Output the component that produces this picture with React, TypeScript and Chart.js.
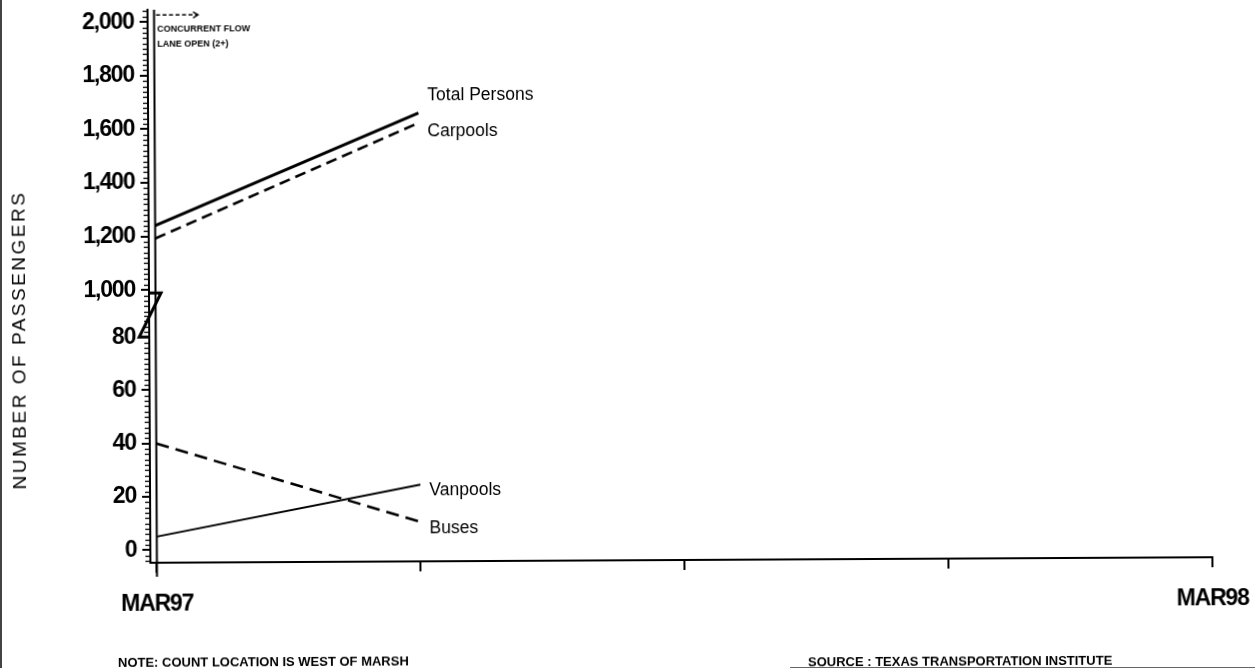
import React, { useEffect, useRef } from 'react';
import { Chart, registerables } from 'chart.js';

Chart.register(...registerables);

// ---------- data ----------
const axisPeriods = ['MAR97', 'JUN97', 'SEP97', 'DEC97', 'MAR98'];
const xTickLabels = ['MAR97', '', '', '', 'MAR98'];
const dataPeriods = ['MAR97', 'JUN97'];

const totalPersons = [1240, 1655];
const carpools = [1192, 1618];
const vanpools = [5, 24];
const buses = [40, 10];

const upperTicks = [1000, 1200, 1400, 1600, 1800, 2000];
const lowerTicks = [0, 20, 40, 60, 80];

const yTitle = 'NUMBER OF PASSENGERS';
const annotationLines = ['CONCURRENT FLOW', 'LANE OPEN (2+)'];
const noteText = 'NOTE: COUNT LOCATION IS WEST OF MARSH';
const sourceText = 'SOURCE : TEXAS TRANSPORTATION INSTITUTE';

// ---------- layout / style ----------
const W = 1255;
const H = 668;
const AREA = { left: 149, right: 1211, top: 7, bottom: 560 };
const LABEL_DY = [-17, 9, 6, 7];
const TICK_FONT = { family: "'Liberation Sans', Arial, sans-serif", size: 23, weight: 'bold' as const };

const decorPlugin = {
  id: 'decor',
  beforeDraw(chart: any) {
    (chart.ctx as any).letterSpacing = '-1.2px';
  },
  beforeDatasetsDraw(chart: any) {
    (chart.ctx as any).letterSpacing = '0px';
  },
  afterDraw(chart: any) {
    const ctx: CanvasRenderingContext2D = chart.ctx;
    (ctx as any).letterSpacing = '0px';
    const xs = chart.scales.x;
    const yH = chart.scales.yHigh;
    const yL = chart.scales.yLow;
    const axisX = chart.chartArea.left;
    ctx.save();

    // minor ticks
    ctx.strokeStyle = '#000';
    ctx.lineWidth = 1.3;
    const minor = (scale: any, step: number, per: number) => {
      const start = Math.ceil(scale.min / step);
      const end = Math.floor(scale.max / step);
      for (let k = start; k <= end; k++) {
        if (k % per === 0) continue;
        const py = Math.round(scale.getPixelForValue(k * step)) + 0.5;
        ctx.beginPath();
        ctx.moveTo(axisX - 5, py);
        ctx.lineTo(axisX, py);
        ctx.stroke();
      }
    };
    minor(yH, 20, 10);
    minor(yL, 2, 10);

    // axis break symbol
    const boundary = yH.bottom;
    const low80 = yL.getPixelForValue(80);
    ctx.lineWidth = 3;
    ctx.lineJoin = 'miter';
    ctx.beginPath();
    ctx.moveTo(axisX, boundary - 20.5);
    ctx.lineTo(axisX + 12, boundary - 20.5);
    ctx.lineTo(axisX - 10, low80);
    ctx.lineTo(axisX, low80);
    ctx.stroke();

    // event marker line
    const mx = xs.getPixelForValue(0);
    ctx.lineWidth = 2;
    ctx.beginPath();
    ctx.moveTo(mx, AREA.top);
    ctx.lineTo(mx, AREA.bottom + 14);
    ctx.stroke();

    // dashed arrow
    const ay = AREA.top + 5.3;
    ctx.lineWidth = 1.4;
    ctx.setLineDash([4, 2.5]);
    ctx.beginPath();
    ctx.moveTo(mx + 2, ay);
    ctx.lineTo(mx + 43, ay);
    ctx.stroke();
    ctx.setLineDash([]);
    ctx.beginPath();
    ctx.moveTo(mx + 39, ay - 3);
    ctx.lineTo(mx + 44, ay);
    ctx.lineTo(mx + 39, ay + 3);
    ctx.stroke();

    // annotation text
    ctx.fillStyle = '#000';
    ctx.font = "bold 9px 'Liberation Sans', Arial, sans-serif";
    ctx.textAlign = 'left';
    ctx.textBaseline = 'alphabetic';
    ctx.fillText(annotationLines[0], mx + 3, AREA.top + 22.3);
    ctx.fillText(annotationLines[1], mx + 3, AREA.top + 36.8);

    // series labels
    ctx.font = "17.5px 'Liberation Sans', Arial, sans-serif";
    ctx.textBaseline = 'middle';
    chart.data.datasets.forEach((ds: any, i: number) => {
      const meta = chart.getDatasetMeta(i);
      const last = meta.data[meta.data.length - 1];
      ctx.fillText(ds.label, last.x + 9, last.y + LABEL_DY[i]);
    });

    // y title
    ctx.save();
    ctx.translate(20, 336.5);
    ctx.rotate(-Math.PI / 2);
    ctx.font = "19px 'Liberation Sans', Arial, sans-serif";
    (ctx as any).letterSpacing = '2.5px';
    ctx.fillStyle = '#000';
    ctx.textAlign = 'center';
    ctx.textBaseline = 'middle';
    ctx.fillText(yTitle, 0, 0);
    ctx.restore();

    // footnotes
    ctx.font = "bold 13px 'Liberation Sans', Arial, sans-serif";
    ctx.textBaseline = 'alphabetic';
    ctx.textAlign = 'left';
    ctx.fillText(noteText, 116, 664);
    ctx.fillText(sourceText, 806, 667);

    ctx.restore();
  },
};

export default function App() {
  const ref = useRef<HTMLCanvasElement | null>(null);

  useEffect(() => {
    if (!ref.current) return;

    const pts = (vals: number[]) =>
      dataPeriods.map((p, i) => ({ x: axisPeriods.indexOf(p), y: vals[i] }));

    const yCommon = (ticks: number[]) => ({
      type: 'linear' as const,
      position: 'left' as const,
      stack: 'y',
      afterBuildTicks: (s: any) => {
        s.ticks = ticks.map((v) => ({ value: v }));
      },
      afterFit: (s: any) => {
        s.width = AREA.left;
        s.paddingTop = 0;
        s.paddingBottom = 0;
      },
      ticks: {
        color: '#000',
        padding: 6,
        font: TICK_FONT,
        callback: (v: any) => Number(v).toLocaleString('en-US'),
      },
      grid: { drawOnChartArea: false, drawTicks: true, tickLength: 8, color: '#000', lineWidth: 2 },
      border: { display: true, color: '#000', width: 2 },
    });

    const chart = new Chart(ref.current, {
      type: 'line',
      data: {
        datasets: [
          { label: 'Total Persons', data: pts(totalPersons), yAxisID: 'yHigh', borderColor: '#000', borderWidth: 3, pointRadius: 0 },
          { label: 'Carpools', data: pts(carpools), yAxisID: 'yHigh', borderColor: '#000', borderWidth: 2.5, borderDash: [11, 6], pointRadius: 0 },
          { label: 'Vanpools', data: pts(vanpools), yAxisID: 'yLow', borderColor: '#000', borderWidth: 2, pointRadius: 0 },
          { label: 'Buses', data: pts(buses), yAxisID: 'yLow', borderColor: '#000', borderWidth: 2.5, borderDash: [13, 7], pointRadius: 0 },
        ],
      },
      options: {
        animation: false,
        responsive: false,
        events: [],
        layout: { padding: { left: 0, right: W - AREA.right, top: AREA.top, bottom: 0 } },
        plugins: { legend: { display: false }, tooltip: { enabled: false } },
        scales: {
          x: {
            type: 'linear',
            position: 'bottom',
            min: -0.0246,
            max: axisPeriods.length - 1,
            afterBuildTicks: (s: any) => {
              s.ticks = axisPeriods.map((_, i) => ({ value: i }));
            },
            afterFit: (s: any) => {
              s.height = H - AREA.bottom;
              s.paddingLeft = 0;
              s.paddingRight = 0;
            },
            ticks: {
              color: '#000',
              autoSkip: false,
              maxRotation: 0,
              padding: 18,
              font: TICK_FONT,
              callback: (_v: any, i: number) => xTickLabels[i] ?? '',
            },
            grid: { drawOnChartArea: false, drawTicks: true, tickLength: 10, color: '#000', lineWidth: 2 },
            border: { display: true, color: '#000', width: 2 },
          },
          yHigh: { ...yCommon(upperTicks), min: 912.3, max: 2045.5, stackWeight: 303.7, weight: 2 },
          yLow: { ...yCommon(lowerTicks), min: -4.81, max: 88.83, stackWeight: 249.3, weight: 1 },
        },
      } as any,
      plugins: [decorPlugin],
    });
    return () => chart.destroy();
  }, []);

  return (
    <div style={{ position: 'fixed', left: 0, top: 0, width: W, height: H, background: '#fff', overflow: 'hidden' }}>
      <canvas
        ref={ref}
        width={W}
        height={H}
        style={{
          width: W,
          height: H,
          display: 'block',
          transform: 'rotate(-0.3deg)',
          transformOrigin: '681px 290px',
        }}
      />
      <div style={{ position: 'absolute', left: 0, top: 0, width: 2, height: H, background: '#444' }} />
      <div style={{ position: 'absolute', left: 790, top: H - 1.5, width: W - 790, height: 1.5, background: '#666' }} />
    </div>
  );
}
